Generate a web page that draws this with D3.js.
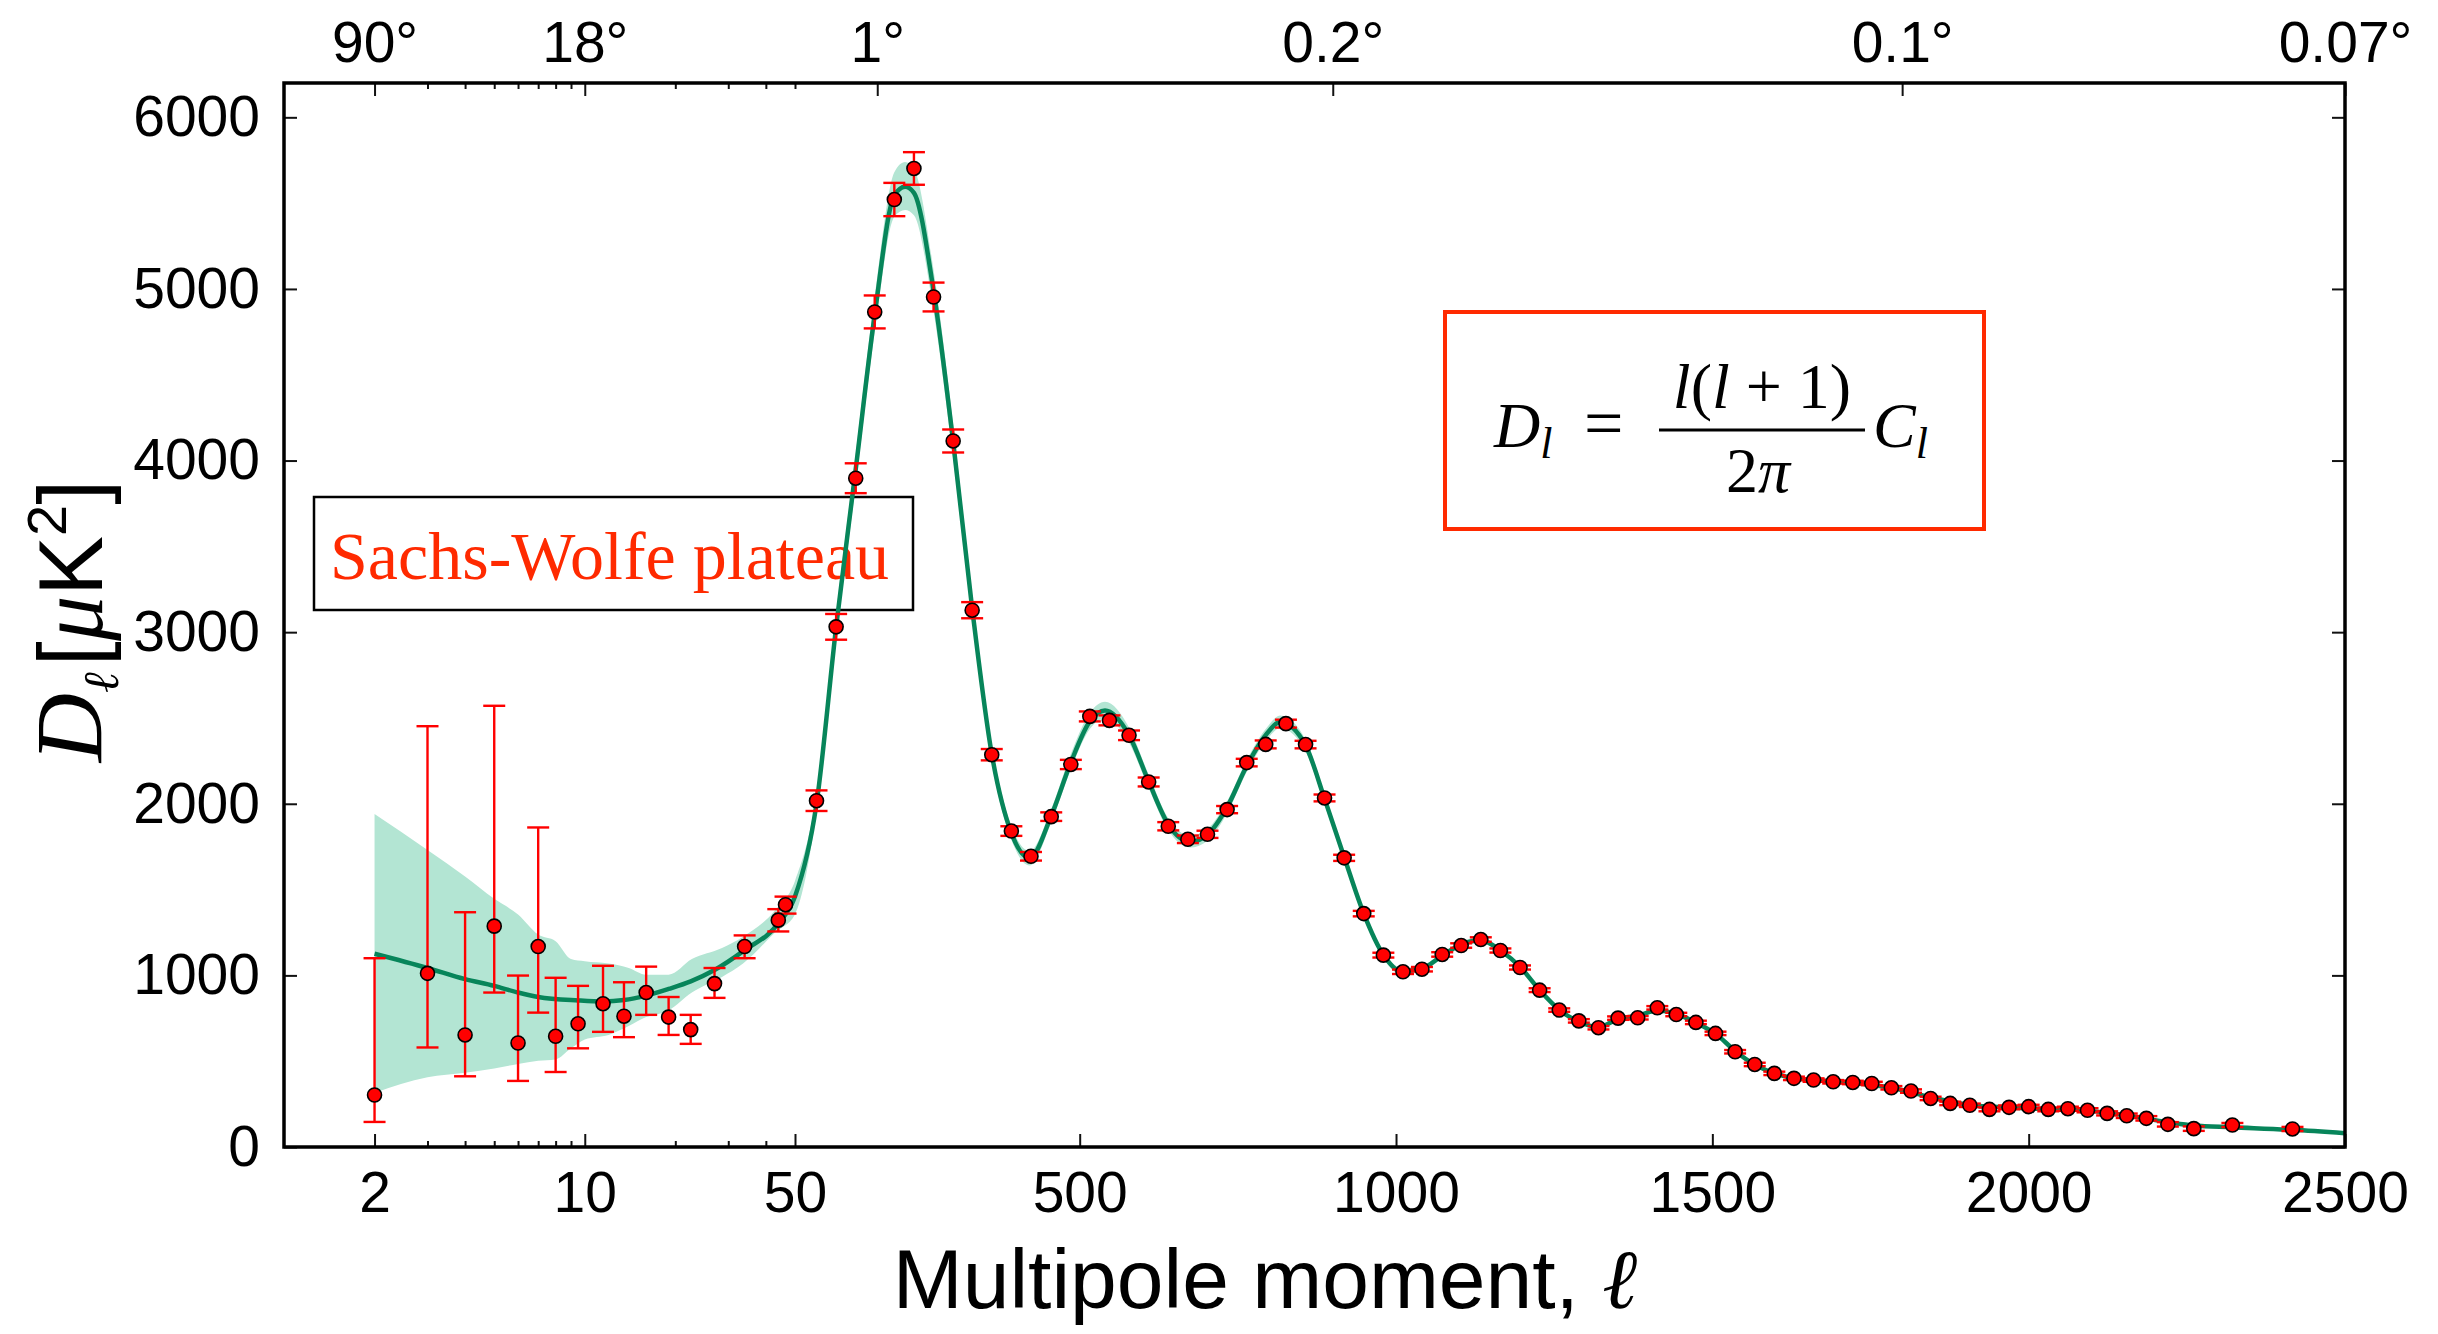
<!DOCTYPE html>
<html>
<head>
<meta charset="utf-8">
<script src="https://cdn.jsdelivr.net/npm/d3@7"></script>
<style>
  body { margin: 0; background: #fff; }
  .serif { font-family: "Liberation Serif", "DejaVu Serif", serif; }
</style>
</head>
<body>
<svg id="cmb" width="2438" height="1334"></svg>
<script>
// low-l points (unbinned / coarse bins), asymmetric error bounds
const lowEll = [2, 3, 4, 5, 6, 7, 8, 9.5, 11.5, 13.5, 16, 19, 22.5, 27, 34, 44, 46.5];
const lowDl  = [303, 1012, 653, 1287, 606, 1168, 645, 718, 835, 762, 900, 757, 684, 952, 1168, 1322, 1412];
const lowLo  = [146, 580, 412, 900, 385, 783, 437, 575, 671, 640, 770, 653, 601, 869, 1100, 1256, 1360];
const lowHi  = [1100, 2452, 1368, 2571, 999, 1862, 986, 939, 1056, 960, 1051, 874, 770, 1043, 1233, 1386, 1459];

// high-l binned points with symmetric errors
const binEll = [84,115,146,176,207,238,269,300,330,361,392,423,455,486,516,547,578,609,640,671,702,733,764,794,826,857,887,918,949,980,1011,1041,1073,1103,1134,1165,1196,1227,1258,1289,1320,1351,1382,1413,1443,1474,1505,1536,1567,1598,1629,1660,1691,1722,1752,1783,1814,1845,1876,1907,1938,1969,2000,2031,2062,2093,2124,2155,2186,2220,2261,2322,2417];
const binDl  = [2018,3031,3897,4866,5521,5702,4953,4114,3128,2286,1841,1694,1925,2229,2509,2486,2399,2127,1869,1793,1822,1966,2240,2346,2467,2345,2034,1685,1360,1118,1021,1036,1122,1174,1209,1145,1046,914,798,735,695,751,753,811,772,726,662,555,481,429,400,390,380,376,370,345,326,283,254,243,219,231,235,219,223,214,196,182,167,132,107,128,105];
const binErr = [60,75,87,96,97,95,84,67,47,33,28,25,25,27,29,29,28,26,24,22,21,21,22,23,23,22,20,18,16,14,13,13,13,13,13,12,12,11,10,10,10,10,10,10,10,10,10,10,10,10,10,10,10,10,10,10,10,10,10,10,11,11,11,11,12,12,12,13,13,13,13,12,12];

// best-fit model curve
const modelEll = [2,3,4,5,6,7,9.5,11.5,13.5,16,19,22.5,27,34,44,50,84,115,146,176,207,224,238,269,300,330,361,392,421,455,486,516,540,578,609,640,674,702,733,764,794,817,857,887,918,949,980,1008,1041,1073,1103,1134,1165,1196,1227,1258,1289,1320,1351,1382,1413,1443,1474,1505,1536,1567,1598,1629,1660,1720,1783,1845,1907,1969,2031,2093,2155,2220,2261,2322,2417,2500];
const modelDl  = [1126,1043,978,939,900,874,854,848,856,882,921,965,1031,1147,1303,1460,2000,3030,3950,4850,5545,5595,5560,4990,4110,3140,2290,1830,1684,1930,2240,2480,2544,2400,2130,1880,1778,1820,1980,2220,2400,2476,2340,2030,1690,1360,1120,1025,1040,1115,1180,1205,1145,1050,915,800,730,700,745,765,795,775,725,660,560,480,430,400,390,375,345,290,245,230,222,212,183,145,125,115,100,80];

// cosmic variance band
const bandEll = [2,3,4,5,6,7,8,9,10,12,14,16,19,22.7,28.6,33.6,43,50,84,115,146,176,207,224,238,269,300,330,361,392,421,455,486,516,540,578,609,640,674,702,733,764,794,817,857,887,918,949,980,1008,1041,1073,1103,1134,1165,1196,1227,1258,1289];
const bandLo  = [315,406,432,458,484,502,510,575,627,653,705,757,796,900,991,1069,1251,1355,1950,2960,3860,4750,5420,5460,5430,4870,4010,3070,2240,1790,1640,1890,2200,2435,2495,2355,2090,1845,1745,1785,1945,2185,2365,2440,2305,2000,1665,1340,1100,1005,1022,1098,1163,1188,1130,1037,905,792,730];
const bandHi  = [1940,1731,1576,1446,1355,1238,1199,1095,1082,1069,1043,1004,1004,1095,1160,1225,1381,1550,2060,3110,4040,4960,5680,5740,5700,5110,4210,3210,2340,1870,1725,1970,2290,2530,2595,2445,2170,1915,1815,1855,2015,2255,2435,2515,2375,2060,1715,1380,1140,1045,1058,1132,1197,1222,1160,1063,925,808,730];

// axes ticks
const yTicks = [0, 1000, 2000, 3000, 4000, 5000, 6000];
const logMajor = [2, 10, 50];
const logMinor = [3, 4, 5, 6, 7, 8, 9, 20, 30, 40];
const linMajor = [500, 1000, 1500, 2000, 2500];
const topEll = [2, 10, 180, 900, 1800, 2500];
const topLabels = ["90°", "18°", "1°", "0.2°", "0.1°", "0.07°"];

const svg = d3.select("#cmb");
const m = {left: 284, right: 2345, top: 83, bottom: 1147};
const green = "#07855a", red = "#ff0000", annoRed = "#ff2a00";
const tickFont = "'Liberation Sans Narrow', 'Liberation Sans', sans-serif";

// hybrid x: log up to l=50, linear after
const xLog = d3.scaleLog().domain([1, 50]).range([m.left, 795]);
const xLin = d3.scaleLinear().domain([50, 2500]).range([795, m.right]);
const x = l => l <= 50 ? xLog(l) : xLin(l);
const y = d3.scaleLinear().domain([0, 6200]).range([m.bottom, m.top]);

// band
const bandData = bandEll.map((l, i) => ({l, lo: bandLo[i], hi: bandHi[i]}));
svg.append("path").datum(bandData)
    .attr("fill", "#b3e5d3")
    .attr("d", d3.area().x(d => x(d.l)).y0(d => y(d.lo)).y1(d => y(d.hi)).curve(d3.curveMonotoneX));

// Sachs-Wolfe label box (under the curve)
svg.append("rect").attr("x", 314).attr("y", 497).attr("width", 599).attr("height", 113)
    .attr("fill", "none").attr("stroke", "#000").attr("stroke-width", 2.5);
svg.append("text").attr("class", "serif").attr("x", 330).attr("y", 579)
    .attr("font-size", 68).attr("fill", annoRed).text("Sachs-Wolfe plateau");

// model curve
const modelData = modelEll.map((l, i) => ({l, v: modelDl[i]}));
svg.append("path").datum(modelData)
    .attr("fill", "none").attr("stroke", green).attr("stroke-width", 4.5)
    .attr("d", d3.line().x(d => x(d.l)).y(d => y(d.v)).curve(d3.curveMonotoneX));

// data points
const pts = lowEll.map((l, i) => ({l, v: lowDl[i], lo: lowLo[i], hi: lowHi[i]}))
    .concat(binEll.map((l, i) => ({l, v: binDl[i], lo: binDl[i] - binErr[i], hi: binDl[i] + binErr[i]})));

const eb = svg.append("g").attr("stroke", red).attr("stroke-width", 2.4);
pts.forEach(d => {
    const cx = x(d.l);
    eb.append("line").attr("x1", cx).attr("x2", cx).attr("y1", y(d.lo)).attr("y2", y(d.hi));
    eb.append("line").attr("x1", cx - 11).attr("x2", cx + 11).attr("y1", y(d.lo)).attr("y2", y(d.lo));
    eb.append("line").attr("x1", cx - 11).attr("x2", cx + 11).attr("y1", y(d.hi)).attr("y2", y(d.hi));
});
svg.append("g").selectAll("circle").data(pts).join("circle")
    .attr("cx", d => x(d.l)).attr("cy", d => y(d.v)).attr("r", 7)
    .attr("fill", red).attr("stroke", "#000").attr("stroke-width", 1.6);

// axes
function styleAxis(g, textY) {
    g.select(".domain").remove();
    g.selectAll(".tick line").attr("stroke", "#111").attr("stroke-width", 2);
    g.attr("font-family", tickFont).attr("font-size", 57);
    if (textY !== undefined) g.selectAll("text").attr("dy", 0).attr("y", textY);
}
const fmt = d3.format("d");
svg.append("g").attr("transform", `translate(0,${m.bottom})`)
    .call(d3.axisBottom(xLog).tickValues(logMajor).tickFormat(fmt).tickSize(-13))
    .call(g => styleAxis(g, 65));
svg.append("g").attr("transform", `translate(0,${m.bottom})`)
    .call(d3.axisBottom(xLog).tickValues(logMinor).tickFormat("").tickSize(-6))
    .call(g => styleAxis(g));
svg.append("g").attr("transform", `translate(0,${m.bottom})`)
    .call(d3.axisBottom(xLin).tickValues(linMajor).tickFormat(fmt).tickSize(-13))
    .call(g => styleAxis(g, 65));

// top: angular scale
svg.append("g").attr("transform", `translate(0,${m.top})`)
    .call(d3.axisTop(xLog).tickValues(logMinor.concat([50])).tickFormat("").tickSize(-6))
    .call(g => styleAxis(g));
topEll.forEach((l, i) => {
    const sc = l <= 50 ? xLog : xLin;
    svg.append("g").attr("transform", `translate(0,${m.top})`)
        .call(d3.axisTop(sc).tickValues([l]).tickFormat(() => topLabels[i]).tickSize(-13))
        .call(g => styleAxis(g, -21));
});

svg.append("g").attr("transform", `translate(${m.left},0)`)
    .call(d3.axisLeft(y).tickValues(yTicks).tickFormat(fmt).tickSize(-13).tickPadding(24))
    .call(g => styleAxis(g));
svg.append("g").attr("transform", `translate(${m.right},0)`)
    .call(d3.axisRight(y).tickValues(yTicks).tickFormat("").tickSize(-13))
    .call(g => styleAxis(g));

// frame
svg.append("rect").attr("x", m.left).attr("y", m.top)
    .attr("width", m.right - m.left).attr("height", m.bottom - m.top)
    .attr("fill", "none").attr("stroke", "#000").attr("stroke-width", 3.5);

// axis titles
const xt = svg.append("text").attr("x", 1265).attr("y", 1308).attr("text-anchor", "middle")
    .attr("font-family", "'Liberation Sans', sans-serif").attr("font-size", 84);
xt.append("tspan").text("Multipole moment, ");
xt.append("tspan").attr("font-family", "'DejaVu Serif', serif").attr("font-style", "italic").text("ℓ");

const yt = svg.append("text").attr("transform", "translate(102,621) rotate(-90)")
    .attr("text-anchor", "middle").attr("font-family", "'Liberation Sans', sans-serif").attr("font-size", 90);
yt.append("tspan").attr("class", "serif").attr("font-style", "italic").attr("font-size", 96).text("D");
yt.append("tspan").attr("font-family", "'DejaVu Serif', serif").attr("font-style", "italic")
    .attr("font-size", 50).attr("dy", 16).text("ℓ");
yt.append("tspan").attr("dy", -16).attr("dx", 6).text("[");
yt.append("tspan").attr("class", "serif").attr("font-style", "italic").text("μ");
yt.append("tspan").text("K");
yt.append("tspan").attr("font-size", 56).attr("dy", -36).text("2");
yt.append("tspan").attr("dy", 36).text("]");

// formula box
svg.append("rect").attr("x", 1445).attr("y", 312).attr("width", 539).attr("height", 217)
    .attr("fill", "none").attr("stroke", annoRed).attr("stroke-width", 4);
const fm = svg.append("g").attr("class", "serif").attr("font-size", 64);
const lhs = fm.append("text").attr("x", 1494).attr("y", 447);
lhs.append("tspan").attr("font-style", "italic").text("D");
lhs.append("tspan").attr("font-style", "italic").attr("font-size", 44).attr("dy", 11).text("l");
fm.append("text").attr("x", 1584).attr("y", 447).attr("font-size", 70).text("=");
const num = fm.append("text").attr("x", 1762).attr("y", 408).attr("text-anchor", "middle");
num.append("tspan").attr("font-style", "italic").text("l");
num.append("tspan").text("(");
num.append("tspan").attr("font-style", "italic").text("l");
num.append("tspan").text(" + 1)");
fm.append("line").attr("x1", 1659).attr("x2", 1865).attr("y1", 430).attr("y2", 430)
    .attr("stroke", "#000").attr("stroke-width", 3);
const den = fm.append("text").attr("x", 1758).attr("y", 492).attr("text-anchor", "middle");
den.append("tspan").text("2");
den.append("tspan").attr("font-style", "italic").text("π");
const rhs = fm.append("text").attr("x", 1873).attr("y", 447);
rhs.append("tspan").attr("font-style", "italic").text("C");
rhs.append("tspan").attr("font-style", "italic").attr("font-size", 44).attr("dy", 11).text("l");
</script>
</body>
</html>
